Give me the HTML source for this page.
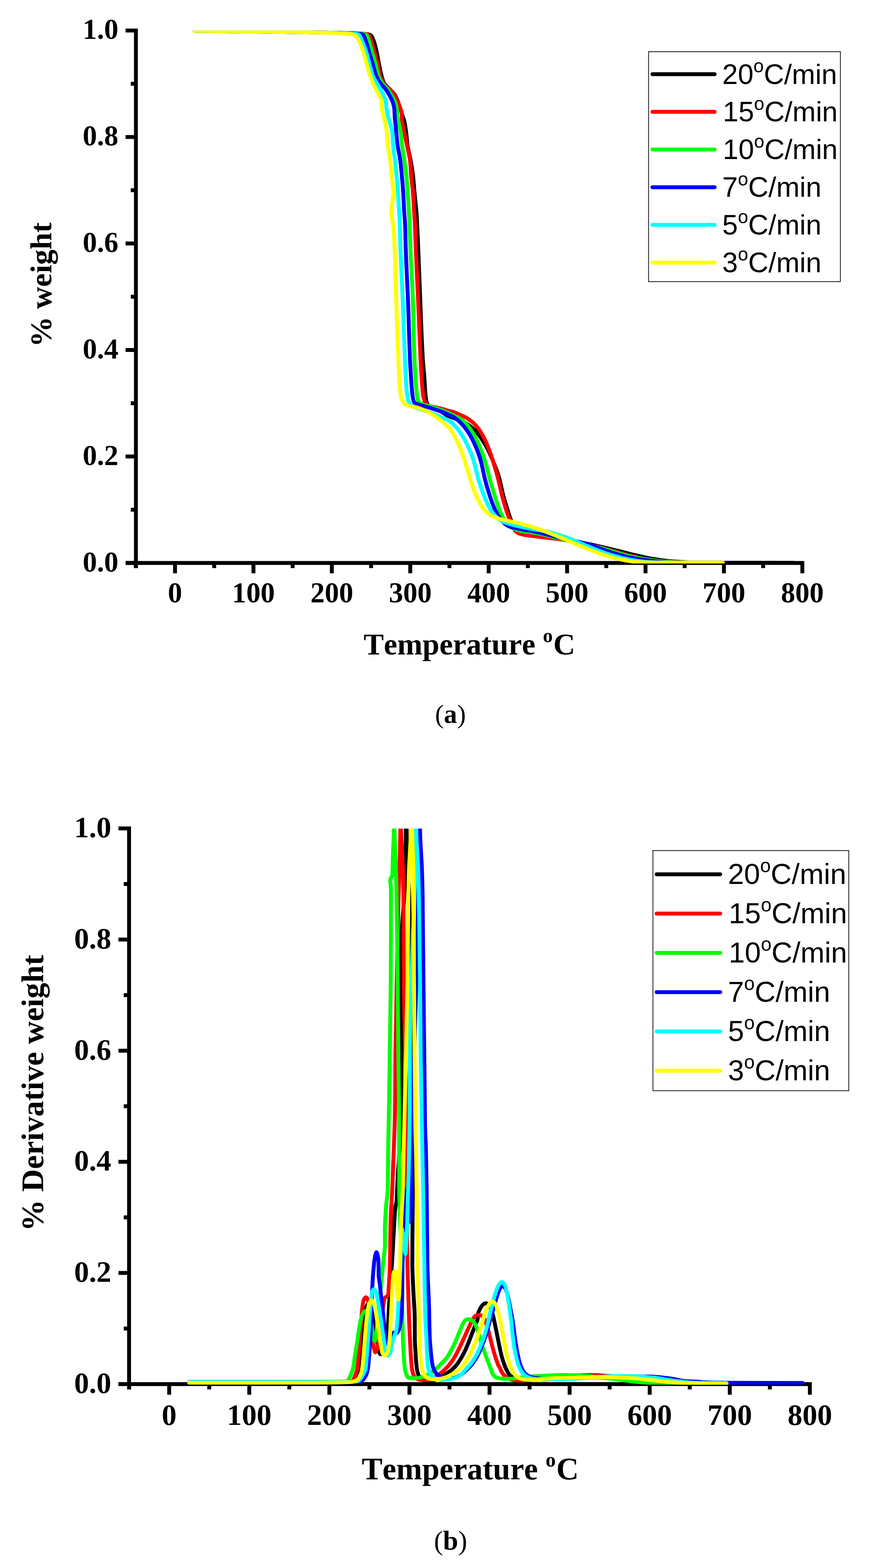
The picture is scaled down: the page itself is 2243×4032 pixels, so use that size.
<!DOCTYPE html>
<html lang="en">
<head>
<meta charset="utf-8">
<title>TGA and DTG curves at different heating rates</title>
<style>
html,body{margin:0;padding:0;background:#fff;}
body{width:2243px;height:4032px;overflow:hidden;}
svg{display:block;}
text{white-space:pre;font-kerning:none;}
</style>
</head>
<body>
<svg width="2243" height="4032" viewBox="0 0 2243 4032">
<rect x="0" y="0" width="2243" height="4032" fill="#ffffff"/>
<g id="chart-a">
<g fill="#000">
<rect x="344.6" y="73.5" width="10" height="1387.3"/>
<rect x="323" y="1442.6" width="1745.8" height="10"/>
<rect x="323" y="1442.6" width="22.6" height="10"/>
<rect x="336.4" y="1305.7" width="9.2" height="10"/>
<rect x="323" y="1168.8" width="22.6" height="10"/>
<rect x="336.4" y="1031.9" width="9.2" height="10"/>
<rect x="323" y="895" width="22.6" height="10"/>
<rect x="336.4" y="758" width="9.2" height="10"/>
<rect x="323" y="621.1" width="22.6" height="10"/>
<rect x="336.4" y="484.2" width="9.2" height="10"/>
<rect x="323" y="347.3" width="22.6" height="10"/>
<rect x="336.4" y="210.4" width="9.2" height="10"/>
<rect x="323" y="73.5" width="22.6" height="10"/>
<rect x="344.4" y="1451.6" width="10" height="9.2"/>
<rect x="445.2" y="1451.6" width="10" height="22.6"/>
<rect x="546" y="1451.6" width="10" height="9.2"/>
<rect x="646.9" y="1451.6" width="10" height="22.6"/>
<rect x="747.8" y="1451.6" width="10" height="9.2"/>
<rect x="848.6" y="1451.6" width="10" height="22.6"/>
<rect x="949.5" y="1451.6" width="10" height="9.2"/>
<rect x="1050.3" y="1451.6" width="10" height="22.6"/>
<rect x="1151.1" y="1451.6" width="10" height="9.2"/>
<rect x="1252" y="1451.6" width="10" height="22.6"/>
<rect x="1352.8" y="1451.6" width="10" height="9.2"/>
<rect x="1453.7" y="1451.6" width="10" height="22.6"/>
<rect x="1554.5" y="1451.6" width="10" height="9.2"/>
<rect x="1655.4" y="1451.6" width="10" height="22.6"/>
<rect x="1756.2" y="1451.6" width="10" height="9.2"/>
<rect x="1857.1" y="1451.6" width="10" height="22.6"/>
<rect x="1958" y="1451.6" width="10" height="9.2"/>
<rect x="2058.8" y="1451.6" width="10" height="22.6"/>
</g>
<g font-family="'Liberation Serif', 'DejaVu Serif', serif" font-weight="bold" font-size="73.5" fill="#000">
<g text-anchor="end">
<text x="304.6" y="1470.2">0.0</text>
<text x="304.6" y="1196.1">0.2</text>
<text x="304.6" y="921.9">0.4</text>
<text x="304.6" y="647.8">0.6</text>
<text x="304.6" y="373.6">0.8</text>
<text x="304.6" y="99.5">1.0</text>
</g><g text-anchor="middle">
<text x="450.2" y="1548.5">0</text>
<text x="651.9" y="1548.5">100</text>
<text x="853.6" y="1548.5">200</text>
<text x="1055.3" y="1548.5">300</text>
<text x="1257" y="1548.5">400</text>
<text x="1458.7" y="1548.5">500</text>
<text x="1660.4" y="1548.5">600</text>
<text x="1862.1" y="1548.5">700</text>
<text x="2063.8" y="1548.5">800</text>
</g></g>
<g font-family="'Liberation Serif', 'DejaVu Serif', serif" font-weight="bold" font-size="78" fill="#000">
<text x="935.2" y="1683.3">Temperature <tspan dy="-32.5" font-size="50.7">o</tspan><tspan dy="32.5" dx="1.4">C</tspan></text>
<text transform="translate(132.2 892.5) rotate(-90)" font-size="78.5">% weight</text>
</g>
<clipPath id="clip-a"><rect x="349.6" y="78.3" width="1724.2" height="1370.7"/></clipPath>
<g clip-path="url(#clip-a)" fill="none" stroke-width="10" stroke-linecap="round" stroke-linejoin="round">
<path stroke="#000000" d="M500.8 79.2C567.2 79.8 633.6 80.6 700 81.5C750 82.2 800 82.9 850 84C876.7 84.6 903.4 85 930 86.5C936 86.8 942.3 87.4 948 88.5C950.3 89 953.1 90.1 954.7 91.5C956.3 92.9 957.5 95.8 958.5 98.1C961.5 104.7 963.6 112 965.5 119.1C967.7 127.3 969.3 135.8 971 144.2C973.1 154.6 974.8 165.2 977 175.6C978.5 182.6 979.9 189.6 981.8 196.5C983.4 202.2 984.9 208.4 987.5 213.3C990.4 218.8 996.5 223.1 1001 228C1005.6 233 1011.4 237.5 1015 243C1018.6 248.6 1021.3 255.5 1023.8 262C1026.1 268 1028 274.2 1030 280.3C1032.1 286.8 1033.9 293.5 1036 300C1037.3 303.9 1039.1 307.7 1040 311.7C1042.4 321.9 1043.7 332.6 1045 343.1C1046.2 352.7 1046.7 362.4 1048 371.9C1049.9 385.9 1054.1 399.7 1056.5 413.7C1058.9 427.6 1061.3 441.6 1062.8 455.6C1064.2 468.1 1064.9 480.7 1066 493.3C1067.6 510.7 1069.9 528.1 1071.2 545.6C1072.1 557.4 1072.7 569.3 1073.3 581.2C1074.1 597.5 1074.7 613.7 1075.4 630C1077.4 678.8 1079.2 727.7 1081.2 776.5C1083.3 827.7 1084.7 878.9 1088 930C1088.7 940.9 1090.1 951.9 1091 962.8C1092.5 981.8 1092.9 1001.1 1095 1020C1095.6 1025.4 1096.4 1031.1 1098 1036C1098.9 1038.7 1101 1041.6 1103 1043.5C1104.8 1045.2 1107.6 1046.3 1110 1047.5C1112.6 1048.8 1115.3 1049.8 1118 1051C1121.3 1052.5 1124.7 1054 1128 1055.5C1131.5 1057.1 1135.1 1058.7 1138.4 1060.5C1142.4 1062.7 1146 1065.9 1150 1068C1156.3 1071.2 1163.3 1073.3 1170 1076C1176.7 1078.7 1183.6 1080.9 1190 1084C1195.9 1086.8 1201.7 1090.2 1207 1094C1212.3 1097.8 1217.5 1102.3 1222 1107C1228.1 1113.3 1233.5 1120.7 1238.5 1128C1243.6 1135.3 1248.3 1143.1 1252.5 1151C1257.9 1161.3 1262.5 1172.2 1267 1183C1272.8 1197 1278.7 1211.1 1283 1225.6C1288 1242.7 1290.8 1260.6 1295.5 1277.9C1298.9 1290.6 1303 1303.1 1307 1315.6C1309.2 1322.6 1311.3 1329.7 1314 1336.5C1316.9 1343.8 1319.6 1352.7 1324 1358C1328.6 1363.5 1337.6 1368.8 1345 1371C1361.8 1375.9 1381.7 1377 1400 1380C1416.7 1382.7 1433.3 1385.3 1450 1388C1470.6 1391.4 1491.2 1394.5 1511.7 1398.5C1530.4 1402.1 1549 1406.6 1567.5 1411C1586.2 1415.4 1604.6 1420.7 1623.3 1425C1641.8 1429.3 1660.4 1433.8 1679.1 1437C1693 1439.4 1707 1441.8 1721 1443C1734.9 1444.2 1748.9 1444.9 1762.9 1445.5C1775.3 1446.1 1787.6 1446.9 1800 1446.9C1880.3 1447.2 1960.6 1447.2 2041 1447.2"/>
<path stroke="#ff0000" d="M500.8 79.2C567.2 79.8 633.6 80.6 700 81.5C750 82.2 800 82.8 850 84C875 84.6 900.1 85.2 925 86.5C930.7 86.8 936.5 87.1 942 88C944.2 88.4 947 89.3 948.4 90.5C950.5 92.3 951.7 96.8 953 100C957.2 110.8 959.7 122.5 963 133.7C966 144.2 969.5 154.5 972 165.1C974.5 175.5 975.5 186.4 978.5 196.5C980.4 203 983.4 210 987 215.4C990.2 220.1 996 223.6 1000.2 227.9C1004.8 232.6 1009.8 237.3 1013.3 242.6C1016.6 247.7 1019.1 253.6 1021.7 259.3C1023.9 264.1 1026.1 269 1027.9 274C1029.9 279.5 1032.7 285 1033.2 290.7C1033.8 297.5 1033.7 304.8 1034.2 311.7C1034.7 318.7 1037 325.6 1038.4 332.6C1039.1 336.1 1039.8 339.6 1040.5 343.1C1042.5 352.7 1044.5 362.3 1046.5 371.9C1049.4 385.8 1053.4 399.6 1054.9 413.7C1056.4 427.5 1056.8 441.7 1058 455.6C1059.1 468.2 1061.2 480.7 1062.2 493.3C1063.6 510.7 1064.4 528.2 1065.4 545.6C1066.1 557.5 1067 569.3 1067.5 581.2C1068.2 597.5 1068.5 613.7 1069.1 630C1070.9 678.8 1073.7 727.7 1075.8 776.5C1078 827.7 1079.5 878.9 1082.1 930C1082.6 940.9 1083.3 951.9 1084 962.8C1085.2 980.2 1085.8 998 1088.2 1015.1C1089.2 1022.2 1091.2 1030.8 1094.4 1036.1C1096.3 1039.3 1101 1042.7 1104.9 1044C1108.3 1045.2 1112.4 1045.6 1116.1 1046.4C1121.7 1047.6 1127.3 1048.9 1132.8 1050.3C1138.6 1051.8 1144.2 1053.6 1150 1055.2C1155.5 1056.7 1161.3 1057.7 1166.7 1059.5C1172.5 1061.4 1177.9 1064.3 1183.5 1066.8C1189.1 1069.3 1194.9 1071.6 1200.2 1074.6C1206.1 1078 1211.9 1082.3 1217 1086.9C1221.1 1090.6 1224.8 1094.9 1228.2 1099.2C1232.3 1104.4 1235.9 1110.2 1239.3 1115.9C1242.5 1121.3 1245.6 1127 1248.3 1132.7C1251.2 1138.9 1253.6 1145.3 1256.1 1151.7C1258 1156.5 1260 1161.3 1261.7 1166.2C1263.7 1171.7 1265.4 1177.3 1267.2 1182.9C1271.6 1197.1 1276 1211.3 1279.8 1225.6C1284.4 1242.9 1287.7 1260.6 1292.3 1277.9C1296.1 1292 1300.2 1306 1304.9 1319.8C1308 1329 1311.4 1338.2 1315.4 1347C1318.4 1353.5 1321.3 1361.6 1325.8 1365.8C1329.8 1369.5 1336.7 1372.8 1342.6 1374.2C1354.5 1377.1 1367.7 1377.9 1380.3 1379.5C1394.2 1381.3 1408.2 1382.9 1422.1 1384.5C1431.4 1385.5 1440.8 1386.3 1450 1387.5C1480.2 1391.6 1510 1399.3 1539.6 1406.5C1558.3 1411.1 1576.7 1417.1 1595.4 1422C1613.9 1426.9 1632.4 1432.7 1651.2 1436C1669.6 1439.2 1688.3 1441.8 1707 1443.5C1716.3 1444.3 1725.7 1445.1 1735 1445.5C1746.7 1446 1758.3 1446.6 1770 1446.6C1799.7 1446.6 1829.3 1446.6 1859 1446.6"/>
<path stroke="#00ff00" d="M500.8 79.2C567.2 79.8 633.6 80.6 700 81.5C750 82.2 800 82.8 850 84C873.3 84.6 896.7 85.4 920 86.5C925.3 86.8 930.8 86.9 936 87.5C938.1 87.7 940.8 88.6 942.1 89.5C944.4 91.2 945.7 96.4 947 100C951.1 110.9 953.5 122.5 956.8 133.7C959.9 144.2 963.4 154.6 966.2 165.1C969 175.5 970.4 186.5 973.8 196.5C975.8 202.3 979 208.2 982.5 213.3C986.1 218.6 992 222.7 996 227.9C1000.9 234.4 1005.1 241.7 1009.1 248.9C1012.1 254.3 1015.8 259.8 1017.5 265.6C1018.9 270.3 1019.9 275.4 1020.6 280.3C1021.6 287.2 1021.8 294.3 1022.7 301.2C1023.6 308.2 1025.5 315.1 1026.9 322.1C1028.3 329.1 1030.1 336.1 1031.1 343.1C1032.4 352.6 1032.9 362.3 1034 371.9C1035.7 385.9 1038.4 399.7 1040.3 413.7C1042.2 427.6 1044.1 441.6 1045.5 455.6C1046.7 468.1 1047.7 480.7 1048.6 493.3C1049.8 510.7 1050.8 528.2 1051.8 545.6C1052.5 557.5 1053.4 569.3 1053.9 581.2C1054.5 597.5 1054.7 613.7 1055.3 630C1057 678.9 1060.5 727.6 1062.2 776.5C1064 827.6 1064.3 878.9 1066.4 930C1066.8 940.9 1067.6 951.9 1068.3 962.8C1069.5 980.2 1070.2 998 1072.5 1015.1C1073.4 1021.5 1074.9 1029.6 1077.7 1034C1079.4 1036.7 1084.5 1039.2 1088.2 1040.5C1091.6 1041.7 1095.6 1042.1 1099.3 1043C1104.9 1044.4 1110.6 1045.8 1116.1 1047.5C1121.7 1049.2 1127.3 1051.4 1132.8 1053.5C1138.6 1055.7 1144.3 1058.1 1150 1060.5C1155.6 1062.9 1161.2 1065.3 1166.7 1067.9C1172.4 1070.7 1178.3 1073.4 1183.5 1076.8C1187.5 1079.4 1191.2 1082.6 1194.7 1085.8C1198.7 1089.5 1202.4 1093.8 1205.8 1098.1C1209.9 1103.3 1213.6 1109.1 1217 1114.8C1220.2 1120.2 1223.1 1125.9 1225.9 1131.6C1228.6 1137.1 1231.2 1142.7 1233.7 1148.3C1235.6 1152.7 1237.6 1157.2 1239.3 1161.7C1241.3 1166.8 1243.1 1172.1 1244.9 1177.3C1246.5 1181.9 1248.1 1186.4 1249.5 1191C1253.9 1205.8 1256.8 1221.2 1260.9 1236.1C1265.4 1252.2 1270.4 1268.3 1275.6 1284.2C1279.5 1296.1 1283 1308.5 1288.2 1319.8C1291.5 1327.1 1295.9 1334.4 1300.7 1340.7C1305.4 1346.8 1311.1 1354 1317.5 1357.5C1323.5 1360.8 1331.3 1363.2 1338.4 1364.8C1352 1367.8 1366.4 1368.6 1380.3 1371.1C1394.3 1373.6 1408.2 1377.3 1422.1 1380.5C1441.4 1384.9 1460.7 1389.6 1480 1394C1499.9 1398.6 1519.9 1402.6 1539.6 1407.5C1567.7 1414.5 1595 1425.4 1623.3 1431.2C1646.3 1435.9 1669.7 1440 1693.1 1442.4C1703.7 1443.5 1714.4 1444.4 1725 1445C1736.7 1445.7 1748.3 1446.6 1760 1446.6C1793 1446.6 1826 1446.6 1859 1446.6"/>
<path stroke="#0000ff" d="M500.8 79.2C567.2 79.8 633.6 80.6 700 81.5C750 82.2 800 82.7 850 84C870.7 84.5 891.4 85.4 912 86.5C917 86.8 922.1 86.9 927 87.5C929.3 87.8 932.2 88.5 933.7 89.5C936.2 91.1 937.6 96.4 939 100C943.3 110.8 946 122.5 949.4 133.7C952.6 144.2 955.7 154.6 958.9 165.1C962 175.6 964.3 186.6 968.3 196.5C970.7 202.3 974.1 208.1 977.7 213.3C981.8 219.3 988 224.1 992.3 230C996.2 235.3 999.8 241 1002.8 246.8C1006 252.8 1009.4 259.1 1011.2 265.6C1012.5 270.3 1013.9 275.4 1014.3 280.3C1014.9 287.2 1014.9 294.2 1015.4 301.2C1015.9 308.2 1016.8 315.1 1017.5 322.1C1018.2 329.1 1018.9 336.1 1019.6 343.1C1020.6 352.7 1021.3 362.3 1022.5 371.9C1024.3 385.9 1028 399.7 1029.8 413.7C1031.6 427.6 1032.7 441.6 1034 455.6C1035.1 468.2 1036.3 480.7 1037.1 493.3C1038.2 510.7 1038.8 528.2 1039.8 545.6C1040.5 557.5 1041.9 569.3 1042.3 581.2C1042.9 597.4 1042.9 613.7 1043.4 630C1044.8 678.9 1047.8 727.7 1049.7 776.5C1051.6 827.7 1052.6 878.9 1054.9 930C1055.4 940.9 1056.1 951.9 1056.8 962.8C1057.9 980.2 1058.7 997.9 1060.9 1015.1C1061.7 1021.5 1062.8 1029.9 1065.1 1034C1066.7 1036.8 1072.8 1039 1077 1040.5C1080.6 1041.8 1084.5 1042.5 1088.2 1043.5C1093.8 1045.1 1099.3 1046.8 1104.9 1048.5C1110.5 1050.2 1116.1 1051.9 1121.7 1053.7C1127.3 1055.5 1132.9 1057.3 1138.4 1059.5C1142.3 1061.1 1146.1 1063.1 1150 1064.8C1153.7 1066.4 1157.6 1067.7 1161.2 1069.5C1165 1071.4 1168.8 1073.6 1172.3 1076C1176.3 1078.8 1180 1082.3 1183.5 1085.8C1187.4 1089.7 1191.2 1093.8 1194.7 1098.1C1198.7 1103 1202.4 1108.3 1205.8 1113.7C1209 1118.7 1212.1 1124 1214.8 1129.3C1217.6 1134.8 1220.1 1140.5 1222.6 1146.1C1224.5 1150.5 1226.5 1155 1228.2 1159.5C1230.2 1164.6 1232 1169.9 1233.7 1175.1C1235.3 1180 1236.7 1185 1238 1190C1241.9 1205.2 1244.5 1220.9 1248.4 1236.1C1252.6 1252.3 1257.5 1268.4 1263 1284.2C1266.7 1294.8 1270.6 1305.7 1275.6 1315.6C1280.1 1324.4 1285.6 1333.8 1292.3 1340.7C1296.9 1345.5 1303 1350.8 1309.1 1353.3C1317.9 1356.9 1328.6 1358.5 1338.4 1360.6C1352.3 1363.5 1366.4 1365.1 1380.3 1368C1394.3 1370.9 1408.1 1375 1422.1 1378.4C1431.4 1380.6 1440.7 1382.8 1450 1385C1470.5 1389.8 1491.5 1393.5 1511.7 1399.1C1530.6 1404.4 1548.7 1412.8 1567.5 1418.6C1585.9 1424.3 1604.5 1430.3 1623.3 1434C1641.7 1437.6 1660.4 1440.3 1679.1 1442.4C1688.4 1443.4 1697.7 1444.4 1707 1445C1718 1445.7 1729 1446.6 1740 1446.6C1779.6 1446.6 1819.3 1446.6 1859 1446.6"/>
<path stroke="#00ffff" d="M500.8 79.2C567.2 79.8 633.6 80.6 700 81.5C750 82.2 800 82.7 850 84C867.3 84.5 884.7 85.5 902 86.5C907 86.8 912.1 86.9 917 87.5C919.1 87.8 921.9 88.6 923.3 89.5C925.9 91.2 927.3 96.4 929 100C934.1 110.8 938.5 122.3 942.1 133.7C945.4 144 947.6 154.6 950.5 165C953.4 175.5 955.6 186.6 959.5 196.5C961.8 202.4 965.8 207.7 969 213.3C972.6 219.6 976.4 225.7 979.8 232.1C982.7 237.6 985.7 243.2 988.2 248.9C989.7 252.3 991.7 255.7 992.3 259.3C993.5 266 993.5 273.4 994.4 280.3C995.3 287.3 996.9 294.3 998.6 301.2C1000.3 308.2 1003.1 315.1 1004.9 322.1C1006.7 329 1008.9 336 1009.5 343.1C1010.3 352.6 1010.3 362.3 1011 371.9C1012 385.9 1014.7 399.7 1016.2 413.7C1017.7 427.6 1019.1 441.6 1020.4 455.6C1021.5 468.2 1022.6 480.7 1023.5 493.3C1024.7 510.7 1025.6 528.2 1026.6 545.6C1027.3 557.5 1028.3 569.3 1028.7 581.2C1029.2 597.5 1029.3 613.7 1029.8 630C1031.2 678.9 1034.2 727.7 1036.1 776.5C1038.1 827.7 1039.6 878.8 1041.7 930C1042.2 940.9 1042.6 951.9 1043.2 962.8C1044.2 980.3 1045.1 997.9 1047.3 1015.1C1048.2 1022.2 1049.9 1030.3 1052.6 1036.1C1054.3 1039.7 1058.4 1043.5 1062 1045.5C1065 1047.2 1069 1048 1072.5 1049.2C1077.7 1051.1 1082.9 1053 1088.2 1054.8C1093.7 1056.7 1099.4 1058.4 1104.9 1060.4C1110.6 1062.5 1116.1 1064.8 1121.7 1067.1C1127.3 1069.5 1132.8 1072.2 1138.4 1074.5C1142.2 1076.1 1146.4 1077.2 1150 1079C1154 1081 1157.7 1083.7 1161.2 1086.5C1165.2 1089.6 1168.9 1093.3 1172.3 1097C1176.4 1101.5 1180.1 1106.5 1183.5 1111.5C1186.7 1116.2 1189.6 1121.1 1192.4 1126C1195.1 1130.8 1197.7 1135.6 1200.2 1140.5C1203 1146 1205.7 1151.6 1208.1 1157.2C1210.5 1162.7 1212.8 1168.3 1214.8 1174C1216.4 1178.6 1217.8 1183.3 1219.2 1188C1223.8 1203.9 1226.9 1220.3 1231.6 1236.1C1235.8 1250.2 1240.8 1264.3 1246.3 1277.9C1250.6 1288.6 1255.1 1299.6 1260.9 1309.3C1264.9 1316 1270 1322.8 1275.6 1328.2C1280.4 1332.9 1286.3 1337.8 1292.3 1340.7C1300 1344.4 1309 1346.8 1317.5 1349.1C1331.2 1352.9 1345.3 1355.7 1359.3 1358.5C1376.7 1362 1394.5 1364 1411.7 1368C1426.6 1371.4 1441.3 1376.4 1455.8 1381.5C1474.8 1388.2 1492.9 1397.3 1511.7 1404.7C1530.2 1412 1548.6 1419.9 1567.5 1425.6C1585.8 1431.1 1604.5 1436.4 1623.3 1439.6C1637.1 1441.9 1651.2 1444.1 1665.2 1445C1676.8 1445.8 1688.4 1446.6 1700 1446.6C1753 1446.6 1806 1446.6 1859 1446.6"/>
<path stroke="#ffff00" d="M500.8 79.2C567.2 79.6 633.6 80.5 700 81.5C750 82.2 800 83 850 84.5C865 84.9 880.1 85.4 895 86.5C898.7 86.8 902.5 87.2 906 88C908.3 88.5 910.9 89.6 912.8 90.8C916.1 92.9 919 96.8 921.2 100.2C924.7 105.8 927 112.7 929.5 119.1C932.6 127.3 935.4 135.8 937.9 144.2C941 154.6 943.3 165.2 946.3 175.6C948.9 184.7 951.4 193.9 954.7 202.8C957.1 209.2 960.1 215.5 963 221.7C966.3 228.8 970 235.6 973.5 242.6C976.3 248.2 981.7 253.4 981.9 259.3C982.2 265.9 982 273.4 982.3 280.3C982.5 285.9 984.7 291.5 986 297C988 305.4 990.8 313.6 992.3 322.1C993.9 331.3 995.2 340.7 996 350C996.6 357.3 996.7 364.6 997.3 371.9C998.5 385.9 1002.4 399.7 1004 413.7C1005.6 427.6 1006.4 441.6 1007.8 455.6C1009.1 468.2 1012 480.7 1012 493.3C1012 510.7 1006.8 528.2 1006.8 545.6C1006.8 557.5 1010.3 569.3 1011.4 581.2C1012.9 597.4 1014 613.7 1014.7 630C1016.9 678.8 1017.6 727.7 1019.3 776.5C1021 827.7 1022.9 878.8 1025 930C1025.4 940.9 1025.8 951.9 1026.4 962.8C1027.4 980.3 1028.2 998.1 1030.6 1015.1C1031.4 1020.8 1033.4 1026.8 1035.8 1031.9C1037.2 1034.9 1039.6 1038.8 1042.1 1040.3C1050.6 1045.3 1065.6 1045.6 1077 1049.2C1082.7 1051 1088.3 1053.4 1093.7 1055.9C1099.4 1058.5 1105 1061.8 1110.5 1064.9C1114.3 1067 1118.1 1069.2 1121.7 1071.6C1125.6 1074.3 1129.1 1077.5 1132.8 1080.5C1135.9 1083 1139 1085.4 1142 1088C1144.7 1090.3 1147.5 1092.5 1150 1095C1154.1 1099.1 1157.9 1103.7 1161.2 1108.5C1165.4 1114.6 1168.8 1121.4 1172.3 1128C1175.5 1133.9 1178.6 1140 1181.3 1146.1C1183.7 1151.6 1186 1157.2 1188 1162.8C1190 1168.3 1191.7 1174 1193.5 1179.6C1195 1184.4 1196.5 1189.2 1198 1194C1203 1210.1 1207.3 1226.4 1212.8 1242.3C1217.7 1256.5 1223 1270.8 1229.5 1284.2C1233.7 1292.9 1238.3 1302.1 1244.2 1309.3C1248.7 1314.8 1254.8 1320.4 1260.9 1324C1268.4 1328.5 1277.5 1331.9 1286.1 1334.5C1299.6 1338.6 1314 1340.5 1327.9 1343.9C1341.9 1347.4 1356 1351.2 1369.8 1355.4C1383.9 1359.7 1397.9 1364.8 1411.7 1370C1426.5 1375.6 1441.1 1381.9 1455.8 1388C1474.5 1395.8 1492.8 1404.5 1511.7 1411.7C1530.1 1418.7 1548.6 1425.9 1567.5 1431.2C1581.3 1435 1595.3 1438.5 1609.4 1441C1618.6 1442.6 1628 1444.3 1637.3 1445C1648.1 1445.8 1659.1 1446.6 1670 1446.6C1733.1 1446.6 1796.2 1446.6 1859.4 1446.6"/>
</g>
<rect x="1668.3" y="133" width="493.4" height="591.2" fill="#fff" stroke="#111" stroke-width="2"/>
<g stroke-width="10" stroke-linecap="round">
<line x1="1678.2" y1="190.7" x2="1838.2" y2="190.7" stroke="#000000"/>
<line x1="1678.2" y1="287.6" x2="1838.2" y2="287.6" stroke="#ff0000"/>
<line x1="1678.2" y1="384.5" x2="1838.2" y2="384.5" stroke="#00ff00"/>
<line x1="1678.2" y1="481.4" x2="1838.2" y2="481.4" stroke="#0000ff"/>
<line x1="1678.2" y1="578.3" x2="1838.2" y2="578.3" stroke="#00ffff"/>
<line x1="1678.2" y1="675.2" x2="1838.2" y2="675.2" stroke="#ffff00"/>
</g>
<g font-family="'Liberation Sans', 'DejaVu Sans', sans-serif" font-size="72.2" fill="#000">
<text x="1857.8" y="215.5">20<tspan dy="-29.6" font-size="47.7">o</tspan><tspan dy="29.6">C/min</tspan></text>
<text x="1859.3" y="312.4">15<tspan dy="-29.6" font-size="47.7">o</tspan><tspan dy="29.6">C/min</tspan></text>
<text x="1859.3" y="409.3">10<tspan dy="-29.6" font-size="47.7">o</tspan><tspan dy="29.6">C/min</tspan></text>
<text x="1857.8" y="506.2">7<tspan dy="-29.6" font-size="47.7">o</tspan><tspan dy="29.6">C/min</tspan></text>
<text x="1857.8" y="603.1">5<tspan dy="-29.6" font-size="47.7">o</tspan><tspan dy="29.6">C/min</tspan></text>
<text x="1857.8" y="700">3<tspan dy="-29.6" font-size="47.7">o</tspan><tspan dy="29.6">C/min</tspan></text>
</g>
</g>
<text x="1158.7" y="1859" text-anchor="middle" font-family="'Liberation Serif', 'DejaVu Serif', serif" font-size="68" fill="#000">(<tspan font-weight="bold">a</tspan>)</text>
<g id="chart-b">
<g fill="#000">
<rect x="327" y="2125.2" width="10" height="1447.6"/>
<rect x="304.7" y="3554.1" width="1783.5" height="10"/>
<rect x="304.7" y="3554.1" width="23.3" height="10"/>
<rect x="318.3" y="3411.2" width="9.7" height="10"/>
<rect x="304.7" y="3268.3" width="23.3" height="10"/>
<rect x="318.3" y="3125.4" width="9.7" height="10"/>
<rect x="304.7" y="2982.5" width="23.3" height="10"/>
<rect x="318.3" y="2839.6" width="9.7" height="10"/>
<rect x="304.7" y="2696.8" width="23.3" height="10"/>
<rect x="318.3" y="2553.9" width="9.7" height="10"/>
<rect x="304.7" y="2411" width="23.3" height="10"/>
<rect x="318.3" y="2268.1" width="9.7" height="10"/>
<rect x="304.7" y="2125.2" width="23.3" height="10"/>
<rect x="327.2" y="3563.1" width="10" height="9.7"/>
<rect x="430.2" y="3563.1" width="10" height="23.3"/>
<rect x="533.2" y="3563.1" width="10" height="9.7"/>
<rect x="636.2" y="3563.1" width="10" height="23.3"/>
<rect x="739.2" y="3563.1" width="10" height="9.7"/>
<rect x="842.2" y="3563.1" width="10" height="23.3"/>
<rect x="945.2" y="3563.1" width="10" height="9.7"/>
<rect x="1048.2" y="3563.1" width="10" height="23.3"/>
<rect x="1151.2" y="3563.1" width="10" height="9.7"/>
<rect x="1254.2" y="3563.1" width="10" height="23.3"/>
<rect x="1357.2" y="3563.1" width="10" height="9.7"/>
<rect x="1460.2" y="3563.1" width="10" height="23.3"/>
<rect x="1563.2" y="3563.1" width="10" height="9.7"/>
<rect x="1666.2" y="3563.1" width="10" height="23.3"/>
<rect x="1769.2" y="3563.1" width="10" height="9.7"/>
<rect x="1872.2" y="3563.1" width="10" height="23.3"/>
<rect x="1975.2" y="3563.1" width="10" height="9.7"/>
<rect x="2078.2" y="3563.1" width="10" height="23.3"/>
</g>
<g font-family="'Liberation Serif', 'DejaVu Serif', serif" font-weight="bold" font-size="76.5" fill="#000">
<g text-anchor="end">
<text x="286.3" y="3581.9">0.0</text>
<text x="286.3" y="3296.1">0.2</text>
<text x="286.3" y="3010.3">0.4</text>
<text x="286.3" y="2724.6">0.6</text>
<text x="286.3" y="2438.8">0.8</text>
<text x="286.3" y="2153">1.0</text>
</g><g text-anchor="middle">
<text x="435.2" y="3664.2">0</text>
<text x="641.2" y="3664.2">100</text>
<text x="847.2" y="3664.2">200</text>
<text x="1053.2" y="3664.2">300</text>
<text x="1259.2" y="3664.2">400</text>
<text x="1465.2" y="3664.2">500</text>
<text x="1671.2" y="3664.2">600</text>
<text x="1877.2" y="3664.2">700</text>
<text x="2083.2" y="3664.2">800</text>
</g></g>
<g font-family="'Liberation Serif', 'DejaVu Serif', serif" font-weight="bold" font-size="80" fill="#000">
<text x="930.4" y="3804.3">Temperature <tspan dy="-33.4" font-size="52">o</tspan><tspan dy="33.4" dx="1.4">C</tspan></text>
<text transform="translate(110.8 3166) rotate(-90)" font-size="81">% Derivative weight</text>
</g>
<clipPath id="clip-b"><rect x="332" y="2130.8" width="1761.2" height="1429.7"/></clipPath>
<g clip-path="url(#clip-b)" fill="none" stroke-width="10" stroke-linecap="round" stroke-linejoin="round">
<path stroke="#000000" d="M486.6 3555C591.1 3555 695.5 3555 800 3555C828.3 3555 856.7 3554.7 885 3554C894.3 3553.8 906.4 3553.2 912.8 3551.7C916.3 3550.9 919.8 3543.7 921.2 3539.1C922.9 3533.3 923.6 3526.4 924.4 3520.1C925.9 3509.2 926.9 3498.2 927.9 3487.3C929.2 3473.3 930.4 3459.4 931.4 3445.4C932.4 3431.4 933 3417.4 934.2 3403.5C935 3394.2 936 3384.7 937.7 3375.6C938.6 3370.9 940 3366 941.9 3361.7C943.2 3358.7 945.5 3353.3 947.5 3353.3C949.6 3353.3 953 3358.6 954.4 3361.7C957.2 3367.8 958.6 3375.5 960 3382.6C961.8 3391.8 962.8 3401.2 964.2 3410.5C966 3422.1 967.8 3433.8 969.8 3445.4C971.3 3454.7 972.2 3464.4 974.7 3473.3C975.5 3476.4 977.1 3482.4 978.9 3482.4C980.4 3482.4 983.6 3478.4 985.1 3476.1C988.3 3471.3 990.5 3465.1 992.1 3459.4C994 3452.6 995.6 3445.5 996.3 3438.4C997.4 3426.9 997.8 3415.2 998.4 3403.5C999.2 3389.6 999.7 3375.6 1000.5 3361.7C1001.3 3347.7 1002.3 3333.7 1003.3 3319.8C1004.2 3305.8 1005.1 3291.9 1006.1 3277.9C1006.7 3268.6 1007.5 3259.3 1008.2 3250C1010.1 3221.4 1011.4 3192.7 1013 3164C1014.1 3146.6 1014.6 3129.1 1016.2 3111.7C1016.4 3108.9 1016.8 3106.1 1017.2 3103.3C1018.1 3097.7 1020 3092.2 1020.4 3086.6C1021 3077.6 1021 3068.4 1021.4 3059.3C1022 3045.4 1022.7 3031.4 1023.5 3017.5C1024.3 3003.5 1025.7 2989.6 1026.6 2975.6C1028.1 2954.7 1029.9 2933.8 1030.8 2912.8C1031.8 2891.9 1032.9 2870.9 1032.9 2850C1032.9 2803.1 1032.5 2756.2 1032.3 2709.3C1032 2639.6 1031.5 2569.8 1031.5 2500C1031.5 2471.3 1032 2442.6 1032.5 2414C1033.4 2368.6 1040 2323.3 1041.3 2277.9C1042.7 2228.9 1043.6 2179.8 1044 2130.8C1044.5 2077.5 1044.6 1971 1044.9 1971C1045.2 1971 1045.3 2077.5 1045.9 2130.8C1046.6 2190.3 1051.4 2249.8 1052.8 2309.3C1054.3 2372.9 1055.1 2436.5 1056 2500C1056.9 2569.8 1057.6 2639.6 1058.3 2709.3C1058.8 2772.9 1058.9 2836.5 1059.7 2900C1060 2918.3 1060.8 2936.5 1061.2 2954.7C1061.7 2979.1 1062.2 3003.5 1062.2 3027.9C1062.2 3066.3 1061.5 3104.7 1061.2 3143.1C1060.9 3178.7 1060.6 3214.4 1060.6 3250C1060.6 3273.3 1062.3 3296.5 1063.3 3319.8C1064.3 3343.1 1066.6 3366.3 1066.8 3389.6C1066.9 3406.4 1066.9 3423.2 1067 3440C1067.1 3454 1068.2 3467.9 1069.1 3481.9C1069.8 3493.5 1070.4 3505.3 1071.9 3516.8C1072.6 3522.9 1074 3529.5 1076.1 3534.9C1077.8 3539.5 1081.8 3545.5 1085.8 3547.5C1089.4 3549.2 1095.1 3551 1099.8 3551C1104.4 3551 1109.2 3550.3 1113.7 3549.6C1118.6 3548.8 1123.2 3546.1 1127.7 3544C1132.5 3541.8 1137.2 3539.1 1141.7 3536.3C1149.6 3531.4 1157.7 3526.1 1164.7 3520C1168.1 3517 1171.5 3513.5 1174.4 3509.9C1178.1 3505.4 1181.1 3500.3 1184.2 3495.3C1187.7 3489.6 1191 3483.7 1194 3477.7C1197.5 3470.7 1200.7 3463.5 1203.7 3456.2C1205.5 3452 1207 3447.7 1208.6 3443.5C1210.2 3439.3 1211.9 3435 1213.5 3430.8C1215.1 3426.6 1216.8 3422.3 1218.4 3418.1C1220 3413.9 1221.6 3409.6 1223.3 3405.4C1224.8 3401.5 1227.4 3397.7 1228.2 3393.7C1229.1 3388.4 1229 3382.5 1230 3377.2C1230.7 3373.2 1233 3369.2 1234.9 3365.5C1236.3 3362.8 1237.9 3360.1 1239.8 3357.7C1241.2 3355.9 1242.8 3353.7 1244.7 3352.8C1246.2 3352.1 1248.3 3351.3 1250 3351.3C1251.9 3351.3 1254 3352.7 1255.4 3353.8C1257.4 3355.3 1259 3358.2 1260.3 3360.6C1262.3 3364.3 1263.8 3368.4 1265.2 3372.3C1266.7 3376.8 1268 3381.4 1269.1 3386C1270.2 3390.6 1271 3395.3 1272 3400C1273.7 3408 1275.4 3416 1277 3424C1278.7 3432.1 1280.2 3440.2 1281.9 3448.4C1283.3 3455.2 1284.6 3462.1 1286.1 3468.8C1287.5 3475.4 1289 3481.9 1290.7 3488.4C1292.5 3495 1294.5 3501.5 1296.8 3507.9C1299.2 3514.6 1302 3521.3 1305.4 3527.5C1307.1 3530.5 1308.9 3533.8 1311.3 3536.3C1313.4 3538.5 1316.3 3540.6 1319.1 3542.1C1322.1 3543.7 1325.5 3545.3 1328.8 3546C1333.6 3547 1338.6 3547.9 1343.5 3548C1350 3548.1 1356.5 3548.2 1363 3548.2C1367.9 3548.2 1372.8 3547.8 1377.7 3547.5C1384.2 3547.1 1390.7 3546.5 1397.2 3546C1404.8 3545.4 1412.4 3544.3 1420 3544.3C1427.3 3544.2 1434.6 3544.2 1441.9 3544.2C1474.4 3544 1507 3541.4 1539.6 3541.4C1567.5 3541.4 1595.5 3542.4 1623.3 3543.6C1642 3544.5 1660.5 3547.4 1679.1 3549.2C1697.7 3551.1 1716.3 3553.9 1735 3554.8C1756.6 3555.8 1778.3 3556.7 1800 3556.8C1886.6 3557 1973.3 3557 2060 3557"/>
<path stroke="#ff0000" d="M486.6 3555C591.1 3555 695.5 3555 800 3555C826.7 3555 853.4 3554.7 880 3554C888.2 3553.8 898.7 3553.2 904.4 3551.7C907.9 3550.8 910.8 3543.6 912.8 3539.1C915.4 3533.2 917.8 3526.5 918.8 3520.1C920.6 3509.4 921.3 3498.2 922.3 3487.3C923.6 3473.3 924.8 3459.4 925.8 3445.4C926.9 3431.4 927.6 3417.5 928.6 3403.5C929.5 3391.9 930.2 3380.2 931.4 3368.6C932.2 3360.7 932.9 3352 934.9 3344.9C935.8 3341.6 939.2 3335.8 941.2 3335.8C943.1 3335.8 945.8 3341.7 946.8 3344.9C949.5 3354.3 950.4 3365.3 951.6 3375.6C953.4 3389.5 954.4 3403.5 955.8 3417.5C957.2 3430.5 958 3443.7 960 3456.6C961.1 3463.6 963.4 3477.5 965.6 3477.5C967.1 3477.5 970.1 3468.3 971.2 3463.5C974.1 3451 975 3437.5 976.8 3424.5C978.7 3410.5 980.4 3396.5 982.3 3382.6C983.7 3373.3 985.1 3364 986.5 3354.7C987.4 3349.1 987.6 3342 989.3 3337.9C990 3336.2 993.3 3335.3 994.9 3333.7C996.2 3332.5 998.1 3331.1 998.4 3329.6C999.7 3322.9 999.7 3313.7 1000.2 3305.8C1000.8 3296.5 1001.4 3287.2 1001.9 3277.9C1002.3 3268.6 1002.8 3259.3 1003 3250C1003.9 3214.4 1003.8 3178.7 1004.7 3143.1C1005.3 3115.1 1007.6 3087.3 1008.9 3059.3C1010.4 3024.5 1011.8 2989.6 1013 2954.7C1014.2 2919.8 1015.8 2884.9 1016.2 2850C1016.8 2803.1 1016.7 2756.2 1017.2 2709.3C1017.9 2639.6 1019.8 2569.8 1021 2500C1021.5 2471.3 1021.9 2442.7 1022.5 2414C1023.2 2379.1 1024.3 2344.2 1025.2 2309.3C1026.7 2249.8 1029.4 2190.3 1029.8 2130.8C1030.1 2077.5 1030.2 1971 1030.4 1971C1030.7 1971 1030.8 2077.5 1031.5 2130.8C1031.9 2167.3 1035.3 2203.7 1036.3 2240.3C1036.9 2263.3 1037.6 2286.3 1037.7 2309.3C1038.3 2372.9 1038.1 2436.5 1038.6 2500C1039.1 2569.8 1040.9 2639.6 1042.3 2709.3C1043.7 2772.9 1047.2 2836.5 1047.2 2900C1047.2 2939.2 1045.9 2978.3 1045.9 3017.5C1045.9 3059.3 1046.2 3101.2 1046.5 3143.1C1046.8 3178.7 1047.3 3214.4 1048 3250C1048.4 3273.3 1049.3 3296.5 1050 3319.8C1050.7 3343 1051.3 3366.3 1052.1 3389.6C1052.7 3406.4 1053.6 3423.2 1054.4 3440C1055.1 3454 1055.7 3467.9 1056.5 3481.9C1057.2 3493.5 1057.9 3505.3 1059.3 3516.8C1060.1 3522.9 1061.4 3529.6 1063.5 3534.9C1065 3538.8 1068.5 3543.8 1071.9 3545.4C1075.5 3547 1081.1 3548.4 1085.8 3548.6C1090.4 3548.8 1095.3 3548.9 1099.8 3548.9C1104.6 3548.9 1109.3 3546 1113.7 3544C1118.6 3541.8 1123.3 3538.7 1127.7 3535.6C1135.7 3529.9 1143.2 3522.9 1150 3515.8C1153.5 3512.1 1156.7 3508.1 1159.8 3504.1C1163.3 3499.4 1166.6 3494.4 1169.5 3489.4C1173.1 3483.4 1176.2 3477.1 1179.3 3470.9C1182.7 3464.1 1185.9 3457.2 1189.1 3450.3C1192.4 3443.2 1195.6 3436 1198.8 3428.8C1200.5 3425.3 1202.1 3421.7 1203.7 3418.1C1205.4 3414.5 1206.9 3410.9 1208.6 3407.4C1210.2 3404.1 1211.8 3400.8 1213.5 3397.6C1215.1 3394.6 1216.4 3391.4 1218.4 3388.8C1220 3386.6 1222 3383.9 1224.2 3382.9C1226.4 3382 1229.5 3381 1232.1 3381C1234.7 3381 1237.8 3382.6 1239.9 3383.9C1241.8 3385.1 1243.3 3387.7 1244.8 3389.8C1245.8 3391.3 1246.9 3393 1247.7 3394.7C1249.8 3399.3 1251.1 3404.4 1252.6 3409.3C1254.3 3415.1 1255.9 3421 1257.5 3426.9C1259.2 3433.4 1260.7 3439.9 1262.3 3446.4C1263.9 3452.6 1265.6 3458.8 1267.2 3465C1268.8 3470.9 1270.4 3476.8 1272.1 3482.6C1273.6 3487.5 1275.3 3492.4 1277 3497.2C1278.6 3501.8 1279.8 3506.6 1281.9 3510.9C1282.7 3512.6 1284 3514.1 1284.9 3515.7C1287.1 3519.8 1288.4 3524.5 1290.7 3528.4C1292.6 3531.6 1295 3534.7 1297.6 3537.2C1299.9 3539.5 1302.6 3541.7 1305.4 3543.3C1308.1 3544.9 1311.2 3546.4 1314.2 3547.3C1317.3 3548.2 1320.7 3549 1324 3549.3C1328.8 3549.8 1333.7 3550.2 1338.6 3550.2C1345.1 3550.2 1351.6 3549.4 1358.2 3549C1364.7 3548.5 1371.2 3548 1377.7 3547.6C1384.2 3547.2 1390.7 3546.9 1397.2 3546.5C1404.8 3546.1 1412.5 3545.8 1420 3545C1427.4 3544.3 1434.5 3540.7 1441.9 3540C1467.5 3537.5 1494 3535.8 1520 3535.8C1535.8 3535.8 1551.7 3537.5 1567.5 3538.6C1586.1 3539.9 1604.7 3541.9 1623.3 3543.6C1641.9 3545.4 1660.5 3547.4 1679.1 3549.2C1697.7 3551.1 1716.3 3553.8 1735 3554.8C1756.6 3556 1778.3 3557 1800 3557.3C1822.7 3557.7 1845.3 3558 1868 3558"/>
<path stroke="#00ff00" d="M486.6 3555C591.1 3555 695.5 3555 800 3555C823.3 3555 846.7 3554.7 870 3554C877.3 3553.8 886.8 3553.1 891.9 3551.7C896.4 3550.4 899.6 3540.8 902.3 3534.9C904.5 3530.2 906.5 3525.1 907.7 3520.1C910.1 3509.4 911.1 3498.2 912.8 3487.3C915 3473.3 917.4 3459.4 919.5 3445.4C921.3 3433.8 922.7 3422.1 924.7 3410.5C925.9 3403.5 927.1 3396.4 929 3389.6C930.2 3385.3 931.8 3380.7 934 3377C935.2 3375 937 3372.5 939 3371.5C940.4 3370.8 942.4 3370 944 3370C945.6 3370 947.7 3371.8 948.5 3373C951 3376.9 951.9 3384 953 3389.6C954.9 3398.7 955.8 3408.2 957.2 3417.5C958.4 3425.4 958.8 3433.7 960.7 3441.2C961.3 3443.6 963.1 3448.2 963.9 3448.2C965.3 3448.2 966.3 3439.9 967 3435.6C968.7 3425.1 969.4 3414.2 970.5 3403.5C971.9 3389.6 973.3 3375.6 974.7 3361.7C976.1 3347.7 977.5 3333.7 978.9 3319.8C980 3308.2 981.3 3296.5 982.3 3284.9C983.1 3276.1 983.7 3267.2 984.4 3258.4C984.9 3252.9 985.5 3247.4 986.1 3241.9C987.5 3227.9 990.3 3214 990.3 3200C990.3 3188 990 3176 990 3164C990 3143.1 991.7 3122.1 993.2 3101.2C994.1 3087.2 997.1 3073.3 997.3 3059.3C998.1 3024.5 997.9 2989.6 998.4 2954.7C998.9 2919.8 999.9 2884.9 1000.5 2850C1001.3 2803.1 1001.9 2756.2 1002.6 2709.3C1003.5 2639.6 1005 2569.8 1005.3 2500C1005.5 2436.4 1005.7 2372.9 1005.7 2309.3C1005.7 2299.6 1005.6 2289.8 1005.3 2280C1005.2 2275.1 1003.8 2270.2 1003.8 2265.4C1003.8 2263.3 1004.2 2261.1 1004.7 2259.1C1005.2 2256.5 1008.6 2254.3 1008.9 2251.8C1010.2 2237.4 1010 2220.4 1010.5 2204.7C1011.4 2180 1012.8 2155.4 1013 2130.8C1013.5 2077.5 1013.4 1971 1013.7 1971C1013.9 1971 1014.1 2077.5 1014.7 2130.8C1015.1 2167.3 1017.7 2203.8 1018.7 2240.3C1019.3 2263.3 1019.8 2286.3 1020.2 2309.3C1021.2 2372.9 1022 2436.5 1022.7 2500C1023.4 2569.8 1023.9 2639.6 1024.6 2709.3C1025.2 2772.9 1026.6 2836.5 1026.6 2900C1026.6 2918.3 1026.6 2936.5 1026.6 2954.7C1026.6 2989.6 1026.7 3024.5 1026.9 3059.3C1027 3087.2 1028.5 3115.1 1029.4 3143C1030 3162 1031 3181 1031.5 3200C1032.7 3245.3 1033.3 3290.7 1034.2 3336.1C1034.9 3370.7 1035.2 3405.4 1036.3 3440C1036.7 3454 1037.5 3467.9 1038.4 3481.9C1039.1 3493.5 1039.7 3505.3 1041.2 3516.8C1041.9 3522.9 1043.2 3529.6 1045.4 3534.9C1046.6 3538 1049.5 3542.9 1052.3 3543.3C1055.6 3543.7 1060.7 3544 1064.9 3544C1069.6 3544 1074.3 3543.3 1078.8 3542.6C1083.6 3541.9 1088.4 3540.1 1092.8 3538.4C1097.7 3536.5 1102.3 3533.5 1106.8 3530.7C1111.6 3527.7 1116.4 3524.5 1120.7 3520.9C1125.7 3516.8 1130.1 3511.7 1134.7 3507C1139.9 3501.6 1145.6 3496.4 1150 3490.4C1153.7 3485.3 1156.7 3479.4 1159.8 3473.8C1163.2 3467.4 1166.5 3460.9 1169.5 3454.2C1173 3446.6 1176.1 3438.6 1179.3 3430.8C1180.9 3426.9 1182.6 3423 1184.2 3419.1C1185.8 3415.2 1187.3 3411.2 1189.1 3407.4C1190.5 3404.3 1192 3401.2 1194 3398.6C1195.3 3396.8 1197 3394.4 1198.8 3393.7C1200.8 3392.9 1203.4 3392.2 1205.7 3392.2C1208.3 3392.2 1211.3 3393.5 1213.5 3394.7C1215.4 3395.6 1217 3397.8 1218.4 3399.5C1220.3 3401.9 1221.9 3404.6 1223.3 3407.4C1225.2 3411.1 1226.7 3415.1 1228.2 3419.1C1230 3424.2 1231.5 3429.5 1233 3434.7C1234.8 3440.5 1236.2 3446.5 1237.9 3452.3C1239.5 3457.5 1241 3462.8 1242.8 3467.9C1244.3 3472.2 1246.1 3476.4 1247.7 3480.6C1249.4 3485.2 1250.9 3489.8 1252.6 3494.3C1254.2 3498.6 1255.9 3502.8 1257.5 3507C1259.1 3511.3 1260.6 3515.7 1262.3 3520C1264.6 3525.6 1266.3 3532.2 1269.6 3536.6C1271.2 3538.7 1273.9 3541 1276.5 3542.1C1278.4 3542.9 1280.8 3543.4 1282.9 3543.9C1285.2 3544.4 1287.5 3544.9 1289.8 3545C1293 3545.3 1296.3 3545.5 1299.5 3545.5C1306 3545.5 1312.6 3545.2 1319.1 3544.9C1325.6 3544.5 1332.1 3543.1 1338.6 3542.3C1345.1 3541.5 1351.6 3540.5 1358.2 3540C1364.7 3539.4 1371.2 3539.1 1377.7 3538.7C1384.2 3538.3 1390.7 3538 1397.2 3537.7C1404.8 3537.4 1412.4 3537.1 1420 3536.7C1427.3 3536.4 1434.6 3535.8 1441.9 3535.8C1465.1 3535.8 1488.5 3536.7 1511.7 3538.1C1521 3538.6 1530.2 3540.9 1539.6 3542C1548.8 3543.1 1558.2 3543.7 1567.5 3544.8C1576.8 3545.8 1586.1 3546.9 1595.4 3548.1C1604.7 3549.3 1614 3550.7 1623.3 3551.7C1632.6 3552.8 1641.9 3553.7 1651.2 3554.5C1660.5 3555.4 1669.8 3556.3 1679.1 3556.8C1693.1 3557.4 1707 3558.1 1721 3558.2C1770 3558.4 1819 3558.5 1868 3558.5"/>
<path stroke="#0000ff" d="M486.6 3553.5C591.1 3553.5 695.5 3553.4 800 3553.3C838.3 3553.2 876.7 3553.1 915 3552.5C919.2 3552.4 924 3552.2 927.5 3551.7C932.4 3551 937.5 3543.9 940 3539.1C942.9 3533.7 945 3526.5 946.1 3520.1C947.9 3509.4 948.6 3498.2 949.5 3487.3C950.7 3473.3 951.5 3459.4 952.3 3445.4C953.1 3431.4 953.9 3417.5 954.4 3403.5C955 3389.6 955.4 3375.6 955.8 3361.7C956.3 3347.7 956.7 3333.7 957.2 3319.8C957.6 3310.5 958.1 3301.2 958.6 3291.9C959.2 3282.6 959.9 3273.2 960.7 3264C961.4 3256.6 962 3249.1 963 3241.9C964.1 3234.5 966.5 3219.9 968.3 3219.9C970 3219.9 973.3 3234.4 973.5 3241.9C973.8 3253.7 973.7 3265.9 974 3277.9C974.2 3287.3 976.4 3296.5 977.5 3305.8C978.5 3315.1 979.2 3324.4 980.3 3333.7C981.3 3343.1 982.7 3352.3 983.7 3361.7C984.8 3370.9 985.6 3380.3 986.5 3389.6C987.5 3398.9 988.4 3408.2 989.3 3417.5C990.3 3426.8 991 3436.1 992.1 3445.4C993 3452.9 993.7 3460.7 995.6 3467.7C996.3 3470.1 998.1 3474.7 999.1 3474.7C1001.2 3474.7 1003.4 3464.6 1004.7 3459.4C1006.6 3451.6 1006.8 3443.2 1008.9 3435.6C1009.7 3432.5 1011.1 3426.6 1013 3426.6C1014.2 3426.6 1017 3428.6 1018.6 3428.6C1020.8 3428.6 1023 3425.2 1024.2 3423.1C1026.2 3419.5 1027.4 3414.8 1028.4 3410.5C1030 3403.7 1031.2 3396.6 1031.9 3389.6C1032.8 3380.3 1033.4 3371 1033.7 3361.7C1034.2 3347.7 1034.5 3333.7 1034.7 3319.8C1035 3296.5 1035 3273.3 1035.4 3250C1035.6 3235.3 1036.6 3220.6 1037.1 3205.9C1038.1 3178 1038.5 3150 1039.8 3122.1C1040.6 3106.8 1041.6 3091.3 1043.4 3076.1C1044.2 3069.1 1046.5 3055.1 1047.6 3055.1C1049.4 3055.1 1050.7 3078.8 1051.8 3090.7C1053.3 3107.8 1054.5 3142 1055.3 3142C1056 3142 1056.5 3114.8 1057 3101.2C1057.5 3087.2 1058.1 3073.3 1058.5 3059.3C1059.3 3024.5 1059.8 2989.6 1060.1 2954.7C1060.4 2919.8 1060.4 2884.9 1060.8 2850C1061.2 2803.1 1063.9 2756.2 1065.4 2709.3C1067.6 2639.6 1069.9 2569.8 1071.7 2500C1073.3 2436.5 1074.5 2372.9 1075.8 2309.3C1077.1 2249.8 1079.3 2190.3 1079.6 2130.8C1079.9 2077.5 1079.9 1971 1080 1971C1080.2 1971 1080.2 2077.5 1080.4 2130.8C1080.6 2167.3 1084.3 2203.7 1085.5 2240.3C1086.2 2263.3 1086.8 2286.3 1087.1 2309.3C1088.1 2372.9 1088.4 2436.5 1089 2500C1089.8 2569.8 1090.6 2639.6 1091.3 2709.3C1092 2772.9 1092.2 2836.5 1093.4 2900C1093.8 2918.3 1095.1 2936.5 1095.5 2954.7C1096.4 2989.5 1097 3024.4 1097.4 3059.3C1097.9 3094.2 1098.1 3129.1 1098.5 3164C1098.7 3192.7 1098.9 3221.4 1099.3 3250C1099.9 3287.3 1102.6 3324.5 1103.6 3361.7C1104.3 3387.8 1104.4 3413.9 1105.4 3440C1105.7 3449.3 1106.7 3458.6 1107.5 3467.9C1108.3 3477.2 1109 3486.6 1110.3 3495.8C1111.1 3502.4 1112.1 3509.1 1113.7 3515.4C1114.9 3519.7 1116.9 3524.3 1119.3 3527.9C1121.4 3531.1 1124.5 3534.3 1127.7 3536.3C1130.9 3538.4 1135 3540.1 1138.9 3541.2C1144.3 3542.8 1150 3544.7 1155.6 3544.7C1160.2 3544.7 1165.1 3543.6 1169.6 3542.6C1174.4 3541.5 1179.3 3538.8 1183.5 3536.3C1190.6 3532.2 1196.7 3525.7 1202.8 3520C1206.1 3516.8 1209.6 3513.5 1212.5 3509.9C1216.1 3505.7 1219.3 3501 1222.3 3496.3C1225.9 3490.6 1229.2 3484.7 1232.1 3478.7C1235.5 3471.4 1238.4 3463.7 1241.3 3456.2C1243 3452 1244.7 3447.8 1246.2 3443.5C1248 3438.7 1249.7 3433.8 1251.1 3428.8C1252.5 3424 1253.6 3419.1 1255 3414.2C1256.4 3409.4 1258 3404.8 1259.3 3400C1260.6 3395.4 1261.4 3390.6 1262.7 3386C1263.6 3383.1 1264.7 3380.2 1265.7 3377.2C1267.4 3371.7 1269 3366.2 1270.5 3360.6C1272.2 3354.8 1273.7 3348.9 1275.4 3343C1277 3337.8 1278.5 3332.6 1280.3 3327.4C1281.7 3323.5 1282.9 3319.4 1284.7 3315.7C1285.8 3313.5 1286.9 3310.8 1288.6 3309.3C1289.6 3308.5 1291.2 3307.4 1292.5 3307.4C1294.2 3307.4 1296.2 3308.8 1297.4 3309.8C1299.3 3311.5 1300.7 3314.9 1301.8 3317.6C1303.2 3321.1 1304.2 3324.8 1305.2 3328.4C1306.5 3333.2 1307.6 3338.1 1308.6 3343C1309.7 3347.9 1310.6 3352.8 1311.6 3357.7C1312.5 3362.6 1313.3 3367.5 1314.2 3372.3C1315.1 3376.9 1316.1 3381.5 1316.9 3386C1317.8 3390.7 1318.7 3395.3 1319.4 3400C1320.4 3406.6 1321.1 3413.3 1321.9 3420C1322.7 3426.5 1323.5 3433 1324.5 3439.5C1325.4 3446.1 1326.3 3452.6 1327.4 3459.1C1328.4 3465.6 1329.5 3472.1 1330.8 3478.6C1332.1 3485.2 1333.5 3491.7 1335.2 3498.2C1336.6 3503.4 1338.1 3508.7 1340.1 3513.8C1341.8 3518.2 1343.9 3522.6 1346.4 3526.5C1348.4 3529.5 1351 3532.6 1353.8 3534.8C1356.4 3536.9 1359.8 3539 1363 3540.2C1367.6 3541.8 1372.8 3542.8 1377.7 3543.6C1384.1 3544.7 1390.7 3546 1397.2 3546C1404.8 3546 1412.4 3545.7 1420 3545.5C1427.3 3545.3 1434.6 3545.1 1441.9 3544.8C1465.1 3543.8 1488.4 3541.3 1511.7 3540.9C1562.8 3540 1614.1 3539.5 1665.2 3539.5C1683.8 3539.5 1702.5 3542.1 1721 3544.2C1735 3545.8 1748.8 3550.3 1762.9 3551.5C1775.2 3552.4 1787.7 3552.3 1800 3553.4C1801.9 3553.6 1803.9 3554.1 1805.8 3554.2C1824.3 3555.2 1843 3555.5 1861.7 3555.6C1929.3 3556.1 1996.9 3556.3 2064.6 3556.3"/>
<path stroke="#00ffff" d="M486.6 3553.5C591.1 3553.5 695.5 3553.4 800 3553.3C835 3553.3 870 3553.1 905 3552.5C909.7 3552.4 915.3 3552.2 919.1 3551.7C925.1 3550.9 930 3541.1 933.7 3534.9C936.5 3530.4 939.6 3525.2 940.5 3520.1C942.1 3509.7 942.3 3498.2 943.3 3487.3C944.4 3473.3 945.7 3459.4 946.8 3445.4C947.8 3431.4 948.6 3417.5 949.5 3403.5C950.5 3389.6 951.2 3375.6 952.3 3361.7C953.1 3352.3 953.8 3342.9 955.1 3333.7C955.9 3328.6 956.7 3322.6 958.6 3318.4C959.2 3317.1 961.1 3314.9 962.1 3314.9C964 3314.9 966 3319.9 967 3322.6C969.1 3328.1 970 3334.6 971.2 3340.7C972.8 3348.6 974.1 3356.5 975.4 3364.4C976.9 3373.7 978.2 3383 979.6 3392.4C981 3402.1 982.3 3411.9 983.7 3421.7C985.1 3431 986.4 3440.3 987.9 3449.6C989.2 3457.5 990.1 3465.7 992.1 3473.3C993.3 3477.6 995.3 3485.9 997.7 3485.9C999.1 3485.9 1002.4 3482.4 1003.3 3480.3C1005.7 3474.6 1005.9 3466.3 1007.5 3459.4C1008.7 3453.7 1009.9 3448 1011.7 3442.6C1012.7 3439.3 1014.6 3436.1 1015.8 3432.8C1016.9 3430.1 1018.1 3427.3 1018.6 3424.5C1020 3417.7 1020.7 3410.5 1021.4 3403.5C1022.3 3394.2 1023 3384.9 1023.5 3375.6C1024.1 3366.3 1024.4 3357 1024.9 3347.7C1025.5 3338.5 1026.5 3329.2 1027 3320C1028.3 3296.7 1029 3273.3 1030 3250C1031.3 3219.9 1031.8 3159.8 1034 3159.8C1034.9 3159.8 1037.6 3183.5 1039.2 3195.4C1040.5 3205.2 1041.9 3224.7 1042.8 3224.7C1043.9 3224.7 1044.7 3198.2 1045.5 3184.9C1046.3 3171 1047.1 3157 1047.6 3143.1C1048.3 3122.1 1048.5 3101.2 1049 3080.3C1049.6 3059.3 1050.6 3038.4 1051.1 3017.5C1051.8 2989.6 1052.4 2961.6 1052.8 2933.7C1053.2 2905.8 1053.7 2877.9 1053.9 2850C1054.2 2803.1 1054.2 2756.2 1054.5 2709.3C1054.8 2660.5 1055.2 2611.6 1056.2 2562.8C1056.6 2541.9 1057.9 2520.9 1058.7 2500C1059.7 2471.3 1060.6 2442.7 1061.6 2414C1062.8 2379.1 1064.5 2344.2 1065.4 2309.3C1066.9 2249.8 1068.4 2190.3 1068.9 2130.8C1069.5 2077.5 1069.7 1971 1070 1971C1070.2 1971 1070.2 2077.5 1070.6 2130.8C1070.9 2167.3 1074.7 2203.7 1075.8 2240.3C1076.6 2263.3 1077.1 2286.3 1077.5 2309.3C1078.7 2372.9 1079.5 2436.5 1080.2 2500C1081 2569.8 1081.3 2639.6 1082.1 2709.3C1082.9 2772.9 1084.1 2836.5 1085.3 2900C1085.6 2918.3 1086 2936.5 1086.3 2954.7C1087 2989.6 1087.8 3024.4 1088.4 3059.3C1089 3094.2 1089.5 3129.1 1090.1 3164C1090.6 3192.7 1091.1 3221.4 1091.5 3250C1091.9 3273.3 1092.2 3296.5 1092.6 3319.8C1093 3343 1093.3 3366.3 1094 3389.6C1094.5 3406.4 1095.9 3423.2 1096.7 3440C1097.4 3454 1097.6 3467.9 1098.4 3481.9C1098.9 3491.2 1099.4 3500.6 1100.5 3509.8C1101.1 3515.4 1102.3 3521.2 1104 3526.5C1105.2 3530.4 1107.1 3534.8 1109.6 3537.7C1111.9 3540.5 1115.8 3543.4 1119.3 3544.7C1124 3546.4 1129.5 3548.2 1134.7 3548.2C1141.6 3548.2 1148.7 3547.5 1155.6 3546.8C1160.3 3546.3 1165.1 3545 1169.6 3543.6C1174.4 3542.1 1179.5 3539.7 1183.5 3537C1189.5 3532.9 1193.6 3525.6 1198.8 3520C1202 3516.6 1205.6 3513.5 1208.6 3509.9C1212.2 3505.7 1215.4 3501 1218.4 3496.3C1221.9 3490.6 1225.2 3484.7 1228.2 3478.7C1231.7 3471.4 1234.9 3463.8 1237.9 3456.2C1239.6 3452 1241.3 3447.8 1242.8 3443.5C1244.5 3438.7 1246.2 3433.8 1247.7 3428.8C1249.1 3424 1250.3 3419.1 1251.6 3414.2C1252.9 3409.5 1254.3 3404.8 1255.4 3400C1256.8 3394.1 1257.9 3388.1 1259.3 3382.1C1260.8 3375.6 1262.6 3369.1 1264.2 3362.6C1265.8 3356.1 1267.3 3349.5 1269.1 3343C1270.6 3337.5 1272.2 3331.9 1274 3326.4C1275.5 3321.8 1277 3317.2 1278.8 3312.8C1280.3 3309.4 1281.8 3306 1283.7 3303C1284.8 3301.3 1286.1 3299.2 1287.6 3298.1C1288.6 3297.5 1289.9 3296.6 1291.1 3296.6C1292.6 3296.6 1294.4 3298.1 1295.5 3299.1C1297.2 3300.7 1298.4 3303.5 1299.4 3305.9C1300.7 3309.3 1301.4 3313.1 1302.3 3316.7C1303.4 3321.2 1304.4 3325.8 1305.2 3330.3C1306.3 3336.2 1307.2 3342.1 1308.2 3347.9C1309.2 3354.4 1310.2 3360.9 1311.1 3367.5C1311.8 3372.3 1312.4 3377.2 1313 3382.1C1313.8 3388.1 1314.9 3394 1315.5 3400C1316.2 3406.6 1316.5 3413.3 1317.1 3420C1317.7 3426.5 1318.6 3433 1319.4 3439.5C1320.2 3446.1 1321 3452.6 1322 3459.1C1323 3465.6 1324.2 3472.1 1325.4 3478.6C1326.7 3485.2 1328.1 3491.7 1329.8 3498.2C1331.2 3503.4 1332.7 3508.8 1334.7 3513.8C1336.3 3517.8 1338.3 3521.9 1340.6 3525.5C1342.5 3528.6 1344.8 3531.9 1347.4 3534.3C1349.9 3536.6 1353.1 3538.6 1356.2 3540.2C1359.9 3542 1363.9 3543.6 1367.9 3544.6C1372.7 3545.7 1377.7 3546.5 1382.6 3547C1387.4 3547.5 1392.3 3548 1397.2 3548C1404.8 3548 1412.4 3546.5 1420 3546.5C1427.3 3546.5 1434.6 3547 1441.9 3547C1455.8 3547 1469.8 3545.6 1483.7 3544.8C1507 3543.4 1530.2 3540.7 1553.5 3540C1576.8 3539.3 1600.1 3538.6 1623.3 3538.6C1641.9 3538.6 1660.6 3540.6 1679.1 3542.2C1697.8 3543.9 1716.3 3548.6 1735 3550.6C1756.6 3553 1778.3 3556 1800 3556.2C1822.9 3556.4 1845.8 3556.5 1868.7 3556.5"/>
<path stroke="#ffff00" d="M486.6 3555.7C591.1 3555.7 695.5 3555.7 800 3555.5C834.1 3555.5 868.6 3555.1 902.3 3553.8C905.8 3553.6 909.7 3552.7 912.8 3551.7C916.7 3550.4 921.1 3546.6 923.3 3543.3C927.2 3537.3 930.1 3528 931.4 3520.1C933.2 3509.4 933.9 3498.2 934.9 3487.3C936.2 3473.3 937.2 3459.4 938.4 3445.4C939.5 3431.4 940.5 3417.5 941.9 3403.5C943 3391.9 944.2 3380.1 946.1 3368.6C947.1 3362.5 948 3355.6 950.2 3350.5C951.4 3347.9 954.7 3343.5 956.5 3343.5C959 3343.5 961.6 3350.8 962.8 3354.7C964.9 3361.2 965.8 3368.6 967 3375.6C968.6 3384.9 969.8 3394.2 971.2 3403.5C972.6 3412.8 974 3422.1 975.4 3431.4C976.8 3440.7 977.9 3450.1 979.6 3459.4C980.7 3465.9 981.5 3473.2 983.7 3478.9C984.7 3481.4 987.3 3485.9 989.3 3485.9C991.5 3485.9 995.2 3481.5 996.3 3478.9C998.6 3473.5 999.6 3465.9 1000.5 3459.4C1001.8 3450.1 1002.6 3440.8 1003.3 3431.4C1004.2 3417.5 1004.7 3403.5 1005.4 3389.6C1006.1 3375.6 1006.8 3361.7 1007.5 3347.7C1008.2 3333.7 1008.7 3319.8 1009.6 3305.8C1010.1 3296.5 1010.4 3286.9 1011.7 3277.9C1012.1 3274.6 1014 3268.1 1015.1 3268.1C1016.3 3268.1 1018.2 3274.6 1018.6 3277.9C1019.9 3286.9 1020 3296.5 1020.7 3305.8C1021.4 3315.1 1021.6 3324.6 1022.8 3333.7C1023.2 3336.6 1024.5 3342.1 1024.9 3342.1C1026 3342.1 1026.6 3327.2 1027 3319.8C1027.7 3305.9 1028 3291.9 1028.4 3277.9C1028.7 3268.6 1028.9 3259.3 1029.1 3250C1030 3214.4 1030.6 3178.7 1031.9 3143.1C1032.9 3115.1 1035.3 3087.3 1036.1 3059.3C1037.1 3024.5 1037.3 2989.6 1038.2 2954.7C1038.6 2936.5 1039.3 2918.2 1039.8 2900C1041.6 2836.5 1043 2772.9 1044.4 2709.3C1046 2639.6 1047.8 2569.8 1048.6 2500C1049.4 2436.5 1049.4 2372.9 1050.3 2309.3C1050.6 2286.3 1051.3 2263.3 1052 2240.3C1053.1 2203.7 1056.4 2167.3 1057 2130.8C1057.9 2077.5 1057.9 1971 1058.5 1971C1059 1971 1059.3 2077.5 1060.1 2130.8C1060.7 2167.3 1062.9 2203.8 1063.5 2240.3C1063.9 2263.3 1064.2 2286.3 1064.3 2309.3C1064.6 2372.9 1064.5 2436.5 1064.7 2500C1065 2569.8 1065.8 2639.6 1066.4 2709.3C1067 2772.9 1067.4 2836.5 1068.5 2900C1068.8 2918.3 1069.6 2936.5 1070 2954.7C1070.7 2989.6 1071.1 3024.4 1071.7 3059.3C1072.2 3094.2 1072.8 3129.1 1073.3 3164C1073.8 3192.7 1074.3 3221.4 1074.8 3250C1075.2 3273.3 1075.4 3296.5 1075.9 3319.8C1076.3 3343 1077.4 3366.3 1077.9 3389.6C1078.3 3406.4 1078.4 3423.2 1078.8 3440C1079.2 3454 1080 3467.9 1080.9 3481.9C1081.6 3491.2 1082.4 3500.6 1083.7 3509.8C1084.5 3515.4 1085.6 3521.2 1087.2 3526.5C1088.4 3530.4 1090.4 3534.8 1092.8 3537.7C1095.1 3540.5 1099 3543.6 1102.6 3544.7C1105.9 3545.7 1110 3546.8 1113.7 3546.8C1118.4 3546.8 1123.1 3546.4 1127.7 3546.1C1132.4 3545.7 1137.1 3544.5 1141.7 3543.3C1146.4 3542 1151.2 3539.9 1155.6 3537.7C1165 3533.1 1174.4 3526.9 1182.2 3520C1186.5 3516.2 1190.4 3511.6 1194 3507C1197.5 3502.4 1200.8 3497.4 1203.7 3492.3C1207.4 3486.1 1210.4 3479.4 1213.5 3472.8C1216.9 3465.4 1220.2 3457.9 1223.3 3450.3C1225 3446.1 1226.6 3441.9 1228.2 3437.6C1229.8 3433.1 1231.5 3428.5 1233 3424C1234.7 3419.1 1236.4 3414.2 1237.9 3409.3C1239.6 3403.8 1241.3 3398.3 1242.8 3392.7C1243.5 3390.2 1244 3387.6 1244.7 3385C1246 3380.1 1247.7 3375.2 1249.5 3370.4C1251 3366.7 1252.6 3363.1 1254.4 3359.6C1255.9 3357 1257.5 3354.3 1259.3 3351.8C1260.5 3350.3 1261.7 3348.3 1263.2 3347.4C1264 3347 1265.2 3346.5 1266.1 3346.5C1267.8 3346.5 1269.8 3347.9 1271 3348.9C1272.7 3350.3 1273.9 3352.7 1274.9 3354.8C1276.5 3357.8 1277.8 3361.2 1278.8 3364.5C1280 3368 1280.8 3371.7 1281.8 3375.3C1282.8 3379.2 1283.8 3383.1 1284.7 3387C1285.7 3391.3 1286.8 3395.6 1287.6 3400C1289 3406.6 1290.1 3413.3 1291.2 3420C1292.4 3426.5 1293.4 3433 1294.7 3439.5C1295.9 3446.1 1297.3 3452.6 1298.6 3459.1C1299.9 3465.6 1301 3472.1 1302.5 3478.6C1303.9 3485.2 1305.5 3491.7 1307.4 3498.2C1309.1 3504.1 1310.9 3510.1 1313.2 3515.7C1314.9 3519.8 1316.8 3523.8 1319.1 3527.5C1321 3530.6 1323.4 3533.7 1325.9 3536.3C1328.5 3538.8 1331.5 3541.5 1334.7 3543.1C1338.3 3544.8 1342.4 3546.6 1346.4 3547C1351.8 3547.6 1357.5 3548 1363 3548C1367.9 3548 1372.8 3547.7 1377.7 3547.5C1384.2 3547.2 1390.7 3546.5 1397.2 3546C1404.8 3545.4 1412.4 3544.3 1420 3544.1C1427.3 3543.8 1434.6 3543.8 1441.9 3543.6C1474.4 3542.9 1507 3540.9 1539.6 3540.9C1567.5 3540.9 1595.5 3542.2 1623.3 3543.6C1642 3544.6 1660.5 3547.4 1679.1 3549.2C1697.7 3551.1 1716.3 3553.8 1735 3554.8C1756.6 3556 1778.3 3557 1800 3557.3C1822.9 3557.7 1845.8 3558 1868.7 3558"/>
</g>
<rect x="1679.5" y="2187.2" width="503.8" height="617.5" fill="#fff" stroke="#111" stroke-width="2"/>
<g stroke-width="10" stroke-linecap="round">
<line x1="1688.9" y1="2248.2" x2="1852.6" y2="2248.2" stroke="#000000"/>
<line x1="1688.9" y1="2349.2" x2="1852.6" y2="2349.2" stroke="#ff0000"/>
<line x1="1688.9" y1="2450.2" x2="1852.6" y2="2450.2" stroke="#00ff00"/>
<line x1="1688.9" y1="2551.2" x2="1852.6" y2="2551.2" stroke="#0000ff"/>
<line x1="1688.9" y1="2652.2" x2="1852.6" y2="2652.2" stroke="#00ffff"/>
<line x1="1688.9" y1="2753.2" x2="1852.6" y2="2753.2" stroke="#ffff00"/>
</g>
<g font-family="'Liberation Sans', 'DejaVu Sans', sans-serif" font-size="74.4" fill="#000">
<text x="1872.5" y="2273.4">20<tspan dy="-30.5" font-size="49.1">o</tspan><tspan dy="30.5">C/min</tspan></text>
<text x="1874.5" y="2374.4">15<tspan dy="-30.5" font-size="49.1">o</tspan><tspan dy="30.5">C/min</tspan></text>
<text x="1874.5" y="2475.4">10<tspan dy="-30.5" font-size="49.1">o</tspan><tspan dy="30.5">C/min</tspan></text>
<text x="1872.5" y="2576.4">7<tspan dy="-30.5" font-size="49.1">o</tspan><tspan dy="30.5">C/min</tspan></text>
<text x="1872.5" y="2677.4">5<tspan dy="-30.5" font-size="49.1">o</tspan><tspan dy="30.5">C/min</tspan></text>
<text x="1872.5" y="2778.4">3<tspan dy="-30.5" font-size="49.1">o</tspan><tspan dy="30.5">C/min</tspan></text>
</g>
</g>
<text x="1159" y="3984.6" text-anchor="middle" font-family="'Liberation Serif', 'DejaVu Serif', serif" font-size="70" fill="#000">(<tspan font-weight="bold">b</tspan>)</text>
</svg>
</body>
</html>
